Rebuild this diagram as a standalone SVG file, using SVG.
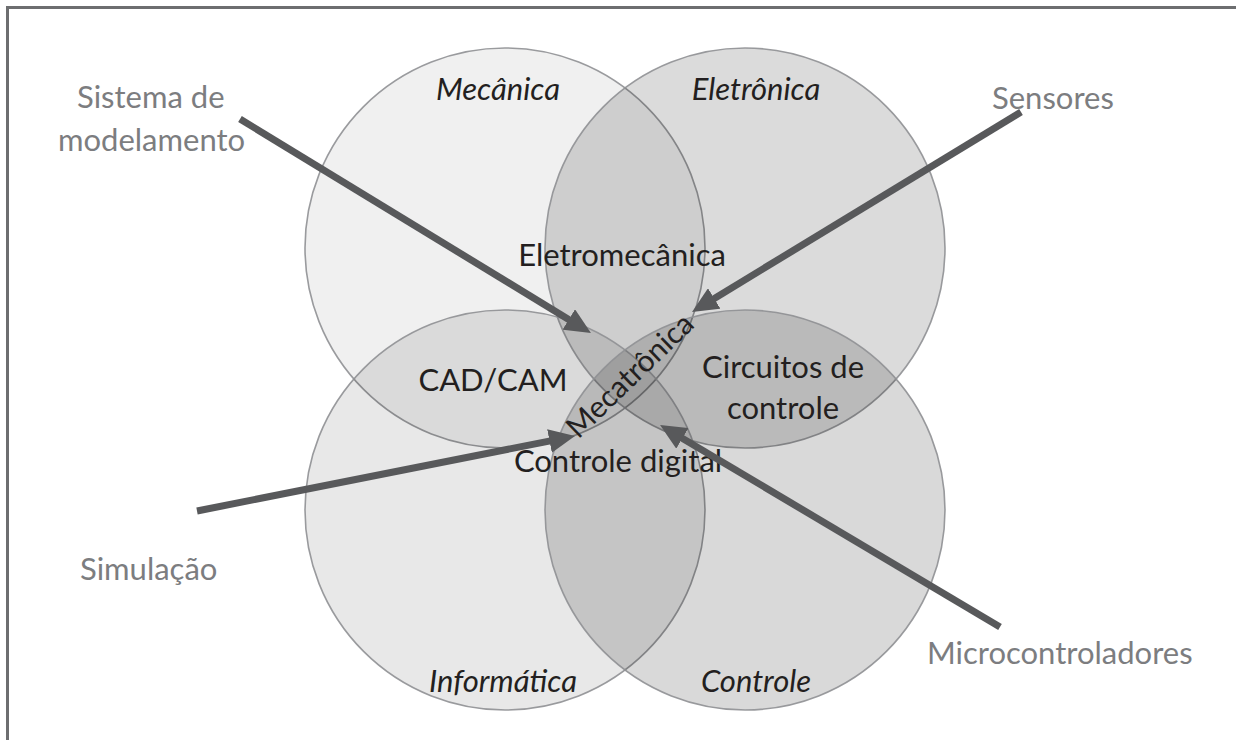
<svg xmlns="http://www.w3.org/2000/svg" width="1236" height="740" viewBox="0 0 1236 740">
<defs>
<style>
.circ{fill:#000;stroke:#8f9093;stroke-width:1.6;stroke-opacity:0.9}
.ext{font-family:Lato,"Liberation Sans",sans-serif;font-size:31px;fill:#7c7d80}
.int{font-family:Lato,"Liberation Sans",sans-serif;font-size:31px;fill:#231f20;text-anchor:middle}
.ital{font-style:italic}
.arrow{stroke:#58595b;stroke-width:7;fill:none;marker-end:url(#ah)}
</style>
<marker id="ah" markerUnits="userSpaceOnUse" markerWidth="26" markerHeight="24" viewBox="0 0 26 24" refX="10" refY="12" orient="auto">
<path d="M0,0 L26,12 L0,24 z" fill="#58595b"/>
</marker>
</defs>
<rect width="1236" height="740" fill="#fff"/>
<path d="M7.5,740 V7.5 H1236" fill="none" stroke="#6d6e70" stroke-width="3"/>
<g id="mecanica"><circle class="circ" cx="505" cy="248" r="200" fill-opacity="0.06"/></g>
<g id="eletronica"><circle class="circ" cx="745" cy="248" r="200" fill-opacity="0.14"/></g>
<g id="informatica"><circle class="circ" cx="505" cy="510" r="200" fill-opacity="0.09"/></g>
<g id="controle"><circle class="circ" cx="745" cy="510" r="200" fill-opacity="0.15"/></g>
<g id="labels-circles">
<text class="int ital" x="498" y="100">Mecânica</text>
<text class="int ital" x="756" y="100">Eletrônica</text>
<text class="int ital" x="503" y="692">Informática</text>
<text class="int ital" x="756" y="692">Controle</text>
</g>
<g id="labels-overlaps">
<text class="int" x="622" y="266">Eletromecânica</text>
<text class="int" x="493" y="391">CAD/CAM</text>
<text class="int" x="783" y="378">Circuitos de</text>
<text class="int" x="783" y="419">controle</text>
<text class="int" x="618" y="472">Controle digital</text>
<text class="int" style="font-size:30px" transform="translate(637,383) rotate(-44)" x="0" y="0">Mecatrônica</text>
</g>
<g id="connectors">
<line class="arrow" x1="240" y1="119" x2="577.3" y2="324.7"/>
<line class="arrow" x1="1021" y1="112" x2="705.7" y2="303.7"/>
<line class="arrow" x1="197" y1="511" x2="559.3" y2="439.1"/>
<line class="arrow" x1="1000" y1="627" x2="673.8" y2="433.2"/>
</g>
<g id="ext-sistema">
<text class="ext" x="77" y="108">Sistema de</text>
<text class="ext" x="58" y="151">modelamento</text>
</g>
<g id="ext-sensores"><text class="ext" x="992" y="109">Sensores</text></g>
<g id="ext-simulacao"><text class="ext" x="80" y="580">Simulação</text></g>
<g id="ext-micro"><text class="ext" x="927" y="664">Microcontroladores</text></g>
</svg>
